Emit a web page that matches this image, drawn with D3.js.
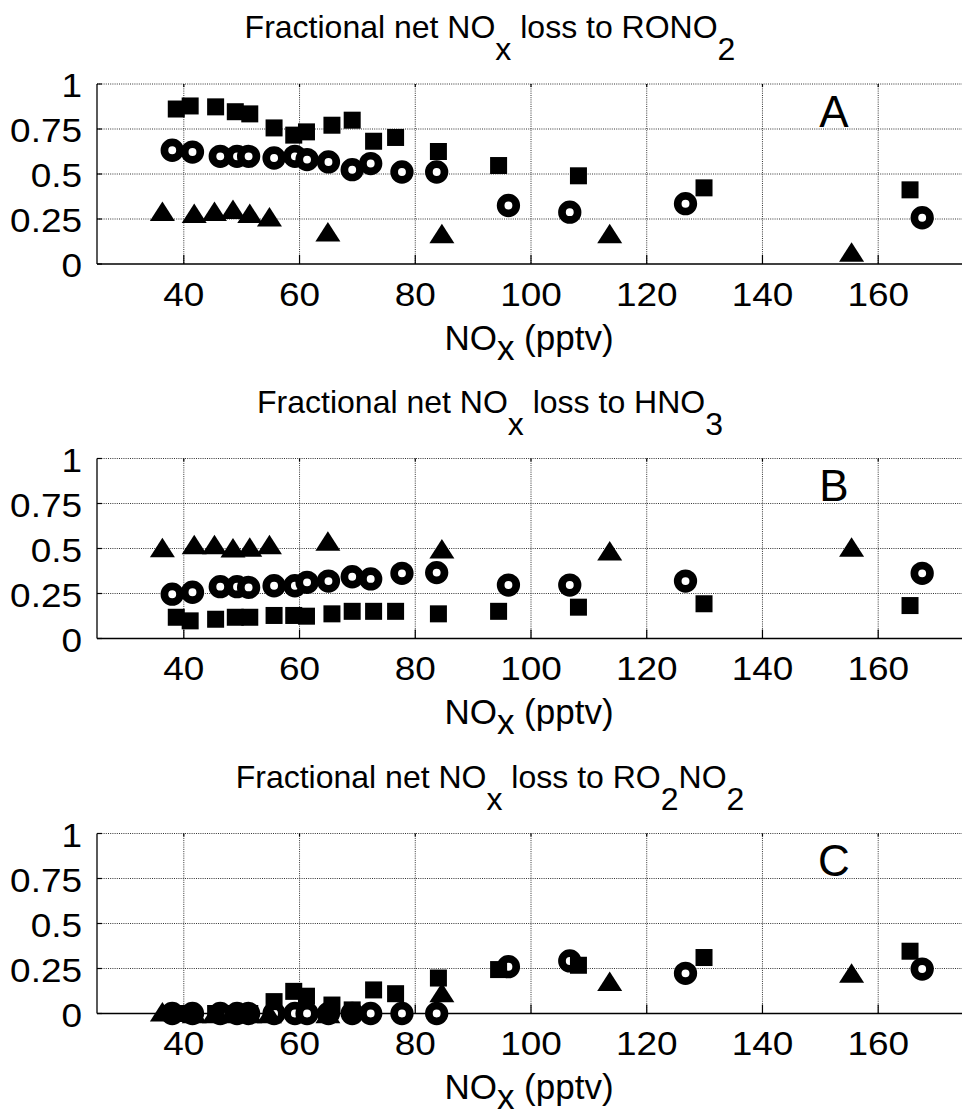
<!DOCTYPE html>
<html>
<head>
<meta charset="utf-8">
<script src="https://cdnjs.cloudflare.com/ajax/libs/d3/7.8.5/d3.min.js"></script>
<style>
  html, body { margin: 0; padding: 0; background: #fff; }
  svg { display: block; font-family: "Liberation Sans", Arial, Helvetica, sans-serif; }
</style>
</head>
<body>
<div id="chart"></div>
<script>
// ---------------- data ----------------
const xSquares   = [38.7, 41.1, 45.5, 48.9, 51.4, 55.6, 59.0, 61.2, 65.6, 69.1, 72.8, 76.6, 84.0, 94.4, 108.2, 129.9, 165.5];
const xCircles   = [38.0, 41.5, 46.3, 49.2, 51.2, 55.6, 59.2, 61.3, 65.0, 69.1, 72.3, 77.7, 83.7, 96.1, 106.7, 126.7, 167.6];
const xTriangles = [36.3, 41.8, 45.3, 48.5, 51.4, 54.8, 64.9, 84.6, 113.6, 155.4];

const aSquares   = [0.861, 0.878, 0.873, 0.846, 0.834, 0.756, 0.716, 0.734, 0.771, 0.799, 0.682, 0.703, 0.625, 0.547, 0.490, 0.423, 0.412];
const aCircles   = [0.632, 0.622, 0.598, 0.598, 0.598, 0.589, 0.598, 0.580, 0.567, 0.524, 0.558, 0.511, 0.511, 0.325, 0.288, 0.335, 0.257];
const aTriangles = [0.293, 0.282, 0.293, 0.304, 0.282, 0.263, 0.179, 0.169, 0.169, 0.067];

const bSquares   = [0.118, 0.098, 0.107, 0.118, 0.118, 0.128, 0.128, 0.124, 0.137, 0.151, 0.151, 0.151, 0.137, 0.151, 0.174, 0.193, 0.183];
const bCircles   = [0.246, 0.257, 0.288, 0.288, 0.284, 0.293, 0.293, 0.312, 0.319, 0.343, 0.331, 0.362, 0.366, 0.297, 0.297, 0.319, 0.362];
const bTriangles = [0.506, 0.522, 0.522, 0.504, 0.508, 0.522, 0.541, 0.498, 0.487, 0.508];

const cSquares   = [0, 0, 0, 0, 0, 0.066, 0.123, 0.096, 0.047, 0.02, 0.131, 0.110, 0.197, 0.244, 0.268, 0.311, 0.346];
const cCircles   = [0, 0, 0, 0, 0, 0, 0, 0, 0, 0, 0, 0, 0, 0.260, 0.292, 0.223, 0.247];
const cTriangles = [0.01, 0, 0, 0, 0, 0, 0, 0.117, 0.179, 0.225];

const xTicks = [40, 60, 80, 100, 120, 140, 160];
const yTicks = [0, 0.25, 0.5, 0.75, 1];
const yTickLabels = ["0", "0.25", "0.5", "0.75", "1"];

const panelTitles = [
  [["Fractional net NO", 0], ["x", 1], [" loss to RONO", 0], ["2", 1]],
  [["Fractional net NO", 0], ["x", 1], [" loss to HNO", 0], ["3", 1]],
  [["Fractional net NO", 0], ["x", 1], [" loss to RO", 0], ["2", 1], ["NO", 0], ["2", 1]]
];
const panelLetters = ["A", "B", "C"];
const xLabel = [["NO", 0], ["x", 1], [" (pptv)", 0]];

const panels = [
  { sq: aSquares, ci: aCircles, tr: aTriangles },
  { sq: bSquares, ci: bCircles, tr: bTriangles },
  { sq: cSquares, ci: cCircles, tr: cTriangles }
];

// ---------------- layout ----------------
const W = 962, H = 1117;
const left = 97, right = 965;
const panelTops = [84, 458.5, 833.5];
const ph = 180;
const tickStretch = 1.12;

const svg = d3.select("#chart").append("svg")
  .attr("width", W).attr("height", H).attr("viewBox", `0 0 ${W} ${H}`);

const x = d3.scaleLinear().domain([25, 175]).range([left, right]);

function richText(g, parts, px, py, size, anchor, subShift) {
  const t = g.append("text")
    .attr("x", px).attr("y", py)
    .attr("text-anchor", anchor)
    .attr("font-size", size)
    .attr("fill", "#000");
  let cur = 0;
  parts.forEach(([s, sub]) => {
    const target = sub ? subShift : 0;
    t.append("tspan").attr("dy", target - cur).text(s);
    cur = target;
  });
  return t;
}

panels.forEach((p, i) => {
  const top = panelTops[i];
  const bottom = top + ph;
  const y = d3.scaleLinear().domain([0, 1]).range([bottom, top]);
  const g = svg.append("g");

  // grid
  g.append("g").selectAll("line").data(xTicks).join("line")
    .attr("x1", d => x(d)).attr("x2", d => x(d))
    .attr("y1", top).attr("y2", bottom)
    .attr("stroke", "#333").attr("stroke-width", 1).attr("stroke-dasharray", "1,1.2");
  g.append("g").selectAll("line").data(yTicks.filter(d => d > 0)).join("line")
    .attr("x1", left).attr("x2", right)
    .attr("y1", d => y(d)).attr("y2", d => y(d))
    .attr("stroke", "#333").attr("stroke-width", 1).attr("stroke-dasharray", "1,1.2");

  // axes lines
  g.append("line").attr("x1", left).attr("x2", right).attr("y1", bottom).attr("y2", bottom)
    .attr("stroke", "#000").attr("stroke-width", 1.3);
  g.append("line").attr("x1", left).attr("x2", left).attr("y1", top).attr("y2", bottom)
    .attr("stroke", "#000").attr("stroke-width", 1.3);

  // tick marks (inside)
  g.append("g").selectAll("line").data(xTicks).join("line")
    .attr("x1", d => x(d)).attr("x2", d => x(d))
    .attr("y1", bottom).attr("y2", bottom - 9)
    .attr("stroke", "#000").attr("stroke-width", 1.2);
  g.append("g").selectAll("line").data(xTicks).join("line")
    .attr("x1", d => x(d)).attr("x2", d => x(d))
    .attr("y1", top).attr("y2", top + 3)
    .attr("stroke", "#000").attr("stroke-width", 1.2);
  g.append("g").selectAll("line").data(yTicks).join("line")
    .attr("x1", left).attr("x2", left + 5)
    .attr("y1", d => y(d)).attr("y2", d => y(d))
    .attr("stroke", "#000").attr("stroke-width", 1.2);

  // tick labels
  g.append("g").selectAll("text").data(xTicks).join("text")
    .attr("transform", d => `translate(${x(d)},${bottom + 41.5}) scale(${tickStretch},1)`)
    .attr("text-anchor", "middle").attr("font-size", 33)
    .text(d => d);
  g.append("g").selectAll("text").data(yTicks).join("text")
    .attr("transform", d => `translate(82,${y(d) + 13}) scale(${tickStretch},1)`)
    .attr("text-anchor", "end").attr("font-size", 33)
    .text((d, j) => yTickLabels[j]);

  // markers: circles, triangles, squares
  const ci = p.ci.map((v, j) => [xCircles[j], v]);
  const tr = p.tr.map((v, j) => [xTriangles[j], v]);
  const sq = p.sq.map((v, j) => [xSquares[j], v]);

  g.append("g").selectAll("circle").data(ci).join("circle")
    .attr("cx", d => x(d[0])).attr("cy", d => y(d[1]))
    .attr("r", 7.8).attr("fill", "#fff").attr("stroke", "#000").attr("stroke-width", 7.7);

  const tw = 25, th = 19.5;
  g.append("g").selectAll("path").data(tr).join("path")
    .attr("d", d => {
      const cx = x(d[0]), cy = y(d[1]);
      return `M${cx},${cy - th / 2}L${cx + tw / 2},${cy + th / 2}L${cx - tw / 2},${cy + th / 2}Z`;
    })
    .attr("fill", "#000");

  const s = 17;
  g.append("g").selectAll("rect").data(sq).join("rect")
    .attr("x", d => x(d[0]) - s / 2).attr("y", d => y(d[1]) - s / 2)
    .attr("width", s).attr("height", s).attr("fill", "#000");

  // title, letter, x label
  richText(g, panelTitles[i], 490, top - 46, 32, "middle", 22);
  g.append("text").attr("x", 834).attr("y", top + 42.5)
    .attr("text-anchor", "middle").attr("font-size", 44).text(panelLetters[i]);
  richText(g, xLabel, 529, bottom + 85.5, 35, "middle", 10);
});
</script>
</body>
</html>
